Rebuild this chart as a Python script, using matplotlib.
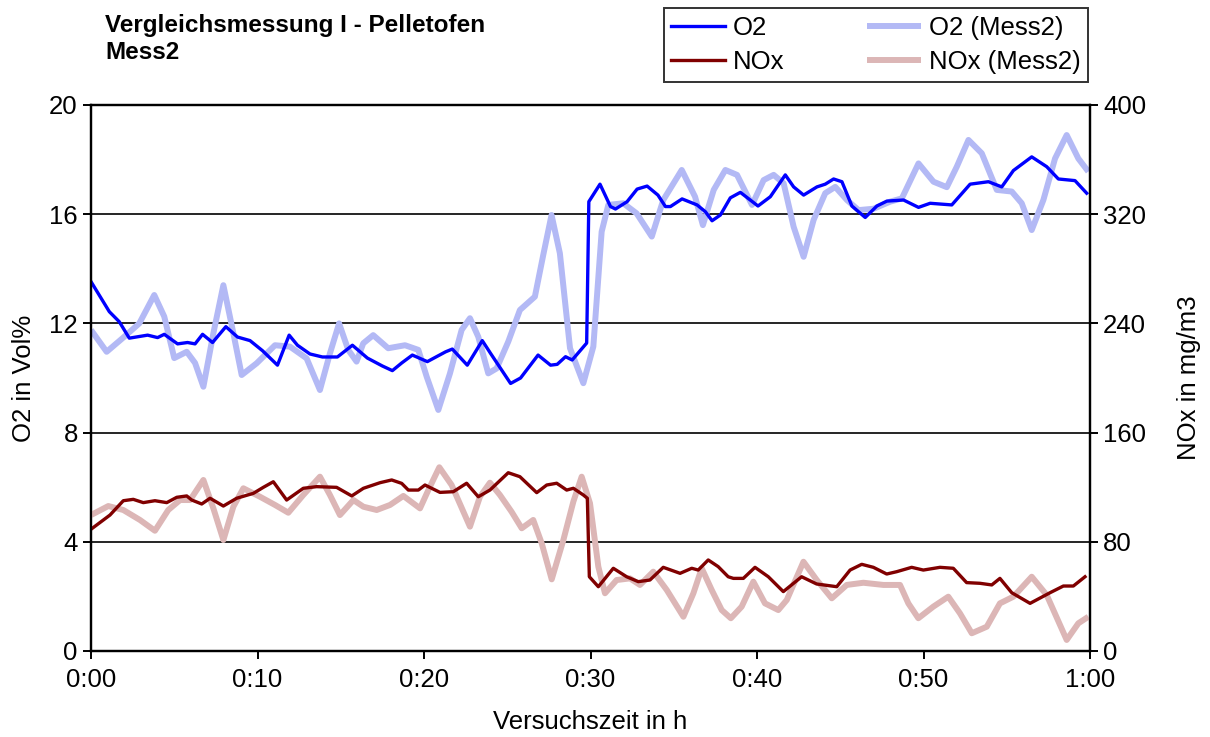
import matplotlib.pyplot as plt
from matplotlib.ticker import FuncFormatter, MultipleLocator

plt.rcParams["font.family"] = ["Liberation Sans", "DejaVu Sans"]

# time in minutes
o2_t = [0, 1.1, 1.7, 2.3, 3.4, 4.0, 4.4, 5.2, 5.8, 6.25, 6.7, 7.3, 8.1, 8.8, 9.55,
        10.3, 11.2, 11.9, 12.4, 13.15, 13.9, 14.8, 15.7, 16.6, 17.5, 18.1, 18.66,
        19.3, 20.2, 21.3, 21.7, 22.6, 23.5, 24.0, 25.2, 25.8, 26.85, 27.6, 28.0,
        28.5, 28.9, 29.77, 29.9, 30.57, 31.2, 31.5, 32.2, 32.8, 33.4, 34.05, 34.5,
        34.8, 35.5, 36.4, 36.9, 37.3, 37.8, 38.4, 39.0, 40.06, 40.8, 41.7, 42.2,
        42.8, 43.6, 44.1, 44.6, 45.1, 45.7, 46.5, 47.2, 47.8, 48.8, 49.7, 50.4,
        51.7, 52.8, 53.9, 54.7, 55.4, 56.5, 57.4, 58.1, 59.1, 59.8]
o2 = [13.53, 12.43, 12.06, 11.46, 11.57, 11.48, 11.6, 11.25, 11.3, 11.25, 11.6,
      11.3, 11.88, 11.5, 11.37, 11.0, 10.47, 11.57, 11.2, 10.88, 10.77, 10.77,
      11.2, 10.73, 10.44, 10.27, 10.55, 10.84, 10.6, 10.96, 11.06, 10.47, 11.37,
      10.9, 9.8, 10.0, 10.84, 10.47, 10.5, 10.78, 10.66, 11.28, 16.46, 17.1, 16.28,
      16.19, 16.46, 16.92, 17.03, 16.7, 16.28, 16.28, 16.56, 16.34, 16.09, 15.76,
      15.97, 16.6, 16.8, 16.3, 16.64, 17.44, 17.0, 16.7, 17.0, 17.1, 17.29, 17.19,
      16.3, 15.88, 16.3, 16.48, 16.52, 16.25, 16.4, 16.34, 17.1, 17.19, 17.0,
      17.6, 18.1, 17.74, 17.29, 17.23, 16.77]

o2m_t = [0, 0.94, 1.9, 2.9, 3.8, 4.4, 5.0, 5.75, 6.25, 6.75, 7.35, 7.95, 8.55,
         9.05, 9.95, 11.05, 11.95, 12.95, 13.75, 14.35, 14.9, 15.45, 15.95, 16.35,
         16.95, 17.85, 18.86, 19.66, 20.16, 20.86, 21.56, 22.26, 22.76, 23.26,
         23.86, 24.36, 25.06, 25.76, 26.66, 27.16, 27.66, 28.16, 28.77, 29.57,
         30.17, 30.67, 31.07, 31.97, 32.77, 33.68, 34.37, 35.48, 36.28, 36.75,
         37.4, 38.1, 38.8, 39.7, 40.4, 41.0, 41.6, 42.2, 42.8, 43.4, 44.1, 44.7,
         45.4, 46.1, 47.0, 48.0, 48.7, 49.7, 50.6, 51.4, 52.0, 52.7, 53.5, 54.4,
         55.3, 55.9, 56.5, 57.2, 57.9, 58.6, 59.3, 59.9]
o2_mess2 = [11.76, 10.96, 11.46, 12.0, 13.04, 12.25, 10.73, 10.96, 10.55, 9.68,
            11.64, 13.4, 11.64, 10.11, 10.54, 11.2, 11.15, 10.72, 9.56, 10.9, 12.0,
            11.03, 10.6, 11.27, 11.57, 11.09, 11.2, 11.03, 10.05, 8.83, 10.17,
            11.76, 12.19, 11.51, 10.17, 10.35, 11.33, 12.49, 12.98, 14.5, 15.97,
            14.57, 11.09, 9.81, 11.15, 15.36, 16.34, 16.4, 16.03, 15.18, 16.52,
            17.62, 16.64, 15.6, 16.89, 17.62, 17.44, 16.34, 17.25, 17.44, 17.13,
            15.54, 14.44, 15.79, 16.77, 17.0, 16.52, 16.15, 16.2, 16.46, 16.58,
            17.86, 17.19, 16.99, 17.74, 18.72, 18.23, 16.89, 16.83, 16.4, 15.42,
            16.52, 18.04, 18.9, 18.04, 17.56]

nox_t = [0, 1.14, 1.94, 2.54, 3.14, 3.84, 4.55, 5.15, 5.75, 6.05, 6.65, 7.15,
         7.95, 8.75, 9.75, 10.35, 10.95, 11.75, 12.75, 13.55, 14.75, 15.66, 16.36,
         17.36, 18.06, 18.66, 19.06, 19.66, 20.06, 20.96, 21.76, 22.56, 23.26,
         23.96, 25.06, 25.76, 26.77, 27.37, 27.97, 28.57, 28.97, 29.57, 29.81,
         29.93, 30.47, 31.37, 32.17, 32.87, 33.57, 34.37, 35.38, 36.08, 36.47,
         37.07, 37.67, 38.27, 38.58, 39.18, 39.88, 40.68, 41.58, 42.68, 43.58,
         44.79, 45.59, 46.29, 46.99, 47.79, 48.39, 49.29, 49.99, 50.99, 51.79,
         52.59, 53.39, 54.1, 54.59, 55.3, 56.4, 57.6, 58.4, 59.0, 59.7]
nox = [89.2, 99.6, 110.1, 111.1, 108.7, 110.1, 108.7, 112.6, 113.6, 110.6, 107.7,
       111.9, 106.2, 111.9, 115.5, 119.9, 124.0, 110.6, 119.2, 120.4, 119.9, 113.6,
       119.2, 123.3, 125.3, 122.8, 117.9, 117.9, 121.6, 116.2, 116.7, 122.9, 113.0,
       117.9, 130.6, 127.7, 116.0, 121.6, 122.9, 117.9, 119.2, 114.3, 111.9, 54.4,
       47.1, 60.6, 54.4, 50.8, 52.0, 61.3, 56.9, 60.6, 59.3, 66.7, 61.8, 54.4, 53.2,
       53.2, 61.3, 54.4, 43.5, 54.4, 49.1, 47.1, 59.3, 63.5, 61.3, 56.4, 58.1, 61.3,
       59.3, 61.3, 60.6, 50.1, 49.6, 48.4, 53.2, 42.7, 34.9, 42.7, 47.6, 47.6, 54.4]

noxm_t = [0, 1.04, 1.94, 2.94, 3.84, 4.64, 5.35, 5.95, 6.75, 7.35, 7.95, 8.55,
          9.15, 10.15, 11.05, 11.85, 12.75, 13.75, 14.35, 14.95, 15.76, 16.36,
          17.16, 17.96, 18.76, 19.76, 20.26, 20.92, 21.66, 22.76, 23.36, 23.96,
          24.56, 25.26, 25.87, 26.56, 27.07, 27.67, 28.37, 28.97, 29.47, 29.97,
          30.47, 30.87, 31.57, 32.37, 32.97, 33.77, 34.58, 35.58, 36.18, 36.68,
          37.28, 37.88, 38.43, 39.08, 39.78, 40.48, 41.28, 41.79, 42.79, 43.59,
          44.49, 45.39, 46.39, 47.59, 48.59, 49.09, 49.69, 50.59, 51.49, 52.19,
          52.9, 53.8, 54.59, 55.4, 56.5, 57.4, 58.6, 59.3, 59.9]
nox_mess2 = [99.6, 106.2, 103.3, 96.0, 88.1, 103.3, 110.6, 110.6, 125.3, 104.5,
             81.3, 105.7, 119.2, 113.0, 107.0, 101.3, 114.3, 127.7, 114.3, 99.6,
             110.6, 105.7, 103.3, 107.0, 113.6, 104.5, 117.9, 134.6, 121.6, 91.1,
             113.0, 123.3, 114.3, 102.0, 89.9, 96.0, 78.9, 52.5, 81.3, 109.4, 127.7,
             108.2, 61.8, 42.3, 52.0, 53.2, 48.4, 58.1, 44.7, 25.1, 42.3, 60.6, 44.7,
             30.0, 24.0, 32.5, 50.8, 34.9, 30.0, 37.4, 65.4, 52.0, 38.6, 48.4, 50.0,
             48.4, 48.4, 34.9, 24.0, 32.5, 39.8, 27.6, 13.0, 17.8, 34.9, 39.8, 54.4,
             41.0, 8.1, 20.3, 25.1]

FS = 18.5

fig = plt.figure(figsize=(12.1, 7.37), dpi=100)
ax = fig.add_axes([91 / 1210, 86 / 737, 999 / 1210, 546 / 737])
ax2 = ax.twinx()

l_o2m, = ax.plot(o2m_t, o2_mess2, color="#b3b9f5", lw=4.3, solid_joinstyle="round",
                 solid_capstyle="butt", label="O2 (Mess2)")
l_o2, = ax.plot(o2_t, o2, color="#0000ff", lw=2.4, solid_joinstyle="round",
                label="O2")
l_noxm, = ax2.plot(noxm_t, nox_mess2, color="#dcb6b6", lw=4.3,
                   solid_joinstyle="round", solid_capstyle="butt", label="NOx (Mess2)")
l_nox, = ax2.plot(nox_t, nox, color="#800000", lw=2.4, solid_joinstyle="round",
                  label="NOx")

ax.set_xlim(0, 60)
ax.set_ylim(0, 20)
ax2.set_ylim(0, 400)
ax.xaxis.set_major_locator(MultipleLocator(10))
ax.xaxis.set_major_formatter(FuncFormatter(lambda v, p: f"{int(v // 60)}:{int(v % 60):02d}"))
ax.yaxis.set_major_locator(MultipleLocator(4))
ax2.yaxis.set_major_locator(MultipleLocator(80))

ax.yaxis.grid(True, color="black", lw=1.2)
ax.set_axisbelow(True)
for a in (ax, ax2):
    for s in a.spines.values():
        s.set_color("black")
        s.set_linewidth(1.6)
    a.tick_params(direction="out", length=6, width=1.4, labelsize=FS, colors="black")
ax.tick_params(axis="x", pad=6)

ax.set_xlabel("Versuchszeit in h", fontsize=FS)
ax.set_ylabel("O2 in Vol%", fontsize=FS)
ax2.set_ylabel("NOx in mg/m3", fontsize=FS)
ax.yaxis.set_label_coords(-0.055, 0.5)
ax2.yaxis.set_label_coords(1.087, 0.5)
ax.xaxis.set_label_coords(0.5, -0.108)

fig.text(105 / 1210, 1 - 14 / 737, "Vergleichsmessung I - Pelletofen\nMess2",
         fontsize=17.5, fontweight="bold", va="top", ha="left", linespacing=1.2)

leg = fig.legend([l_o2, l_nox, l_o2m, l_noxm], ["O2", "NOx", "O2 (Mess2)", "NOx (Mess2)"],
                 ncol=2, loc="upper right", bbox_to_anchor=(1088 / 1210, 1 - 8 / 737),
                 fontsize=FS, frameon=True, fancybox=False, borderaxespad=0,
                 handlelength=2.1, handletextpad=0.3, columnspacing=3.2,
                 labelspacing=0.4, borderpad=0.3)
leg.get_frame().set_edgecolor("black")
leg.get_frame().set_linewidth(1.4)

fig.savefig("out.png", dpi=100)
